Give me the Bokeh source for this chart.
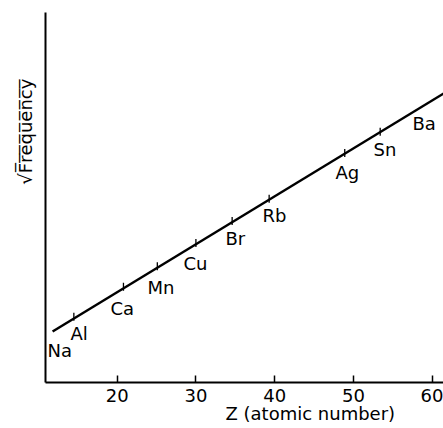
from bokeh.plotting import figure
from bokeh.models import Range1d, FixedTicker, ColumnDataSource
from bokeh.core.properties import value
from bokeh.embed import file_html
from bokeh.resources import INLINE

# ---- data ----
elements = ["Na", "Al", "Ca", "Mn", "Cu", "Br", "Rb", "Ag", "Sn", "Ba"]
label_z = [11.15, 14.07, 19.15, 23.85, 28.42, 33.76, 38.46, 47.72, 52.55, 57.5]
label_y = [3.2, 4.9, 7.4, 9.5, 11.9, 14.4, 16.7, 21.0, 23.3, 25.9]
mark_z = [14.5, 20.8, 25.1, 30.0, 34.6, 39.3, 48.9, 53.4]
mark_y = [6.58, 9.57, 11.62, 13.95, 16.14, 18.37, 22.94, 25.08]
line_z = [11.8, 62.5]
line_y = [5.1, 29.4]
x_ticks = [20, 30, 40, 50, 60]

FONT = "DejaVu Sans"
NB = "\u00a0"

p = figure(width=443, height=428, output_backend="svg", toolbar_location=None,
           x_range=Range1d(10.9, 61.44), y_range=Range1d(0, 37),
           min_border_left=45, min_border_right=0, min_border_top=12, min_border_bottom=46)
p.outline_line_color = None
p.xgrid.visible = False
p.ygrid.visible = False
p.background_fill_color = "white"
p.border_fill_color = "white"

# x axis
xa = p.xaxis[0]
xa.ticker = FixedTicker(ticks=x_ticks)
xa.minor_tick_line_color = None
xa.major_tick_in = 7
xa.major_tick_out = 0
xa.major_tick_line_width = 1.5
xa.major_tick_line_color = "black"
xa.axis_line_width = 2
xa.axis_line_color = "black"
xa.major_label_text_font = FONT
xa.major_label_text_font_size = "18px"
xa.major_label_text_color = "black"
xa.major_label_standoff = 6
xa.axis_label = NB * 23 + "Z (atomic number)"
xa.axis_label_text_font = FONT
xa.axis_label_text_font_size = "18px"
xa.axis_label_text_font_style = "normal"
xa.axis_label_text_color = "black"
xa.axis_label_standoff = -2

# y axis
ya = p.yaxis[0]
ya.ticker = FixedTicker(ticks=[])
ya.minor_tick_line_color = None
ya.major_tick_in = 0
ya.major_tick_out = 0
ya.axis_line_width = 2
ya.axis_line_color = "black"
ya.major_label_text_font_size = "0px"
ya.axis_label = NB * 23 + "\u221aF\u0305r\u0305e\u0305q\u0305u\u0305e\u0305n\u0305c\u0305y\u0305"
ya.axis_label_text_font = FONT
ya.axis_label_text_font_size = "18px"
ya.axis_label_text_font_style = "normal"
ya.axis_label_text_color = "black"
ya.axis_label_standoff = 10

# line
p.line(line_z, line_y, line_color="black", line_width=2.5)

# marks on line
src_m = ColumnDataSource(dict(x=mark_z, y0=[v - 0.4 for v in mark_y], y1=[v + 0.4 for v in mark_y]))
p.segment(x0="x", x1="x", y0="y0", y1="y1", source=src_m, line_color="black", line_width=1.3)

# element labels
src_l = ColumnDataSource(dict(x=label_z, y=label_y, t=elements))
p.text(x="x", y="y", text="t", source=src_l, text_font=value(FONT), text_font_size="18px",
       text_align="left", text_baseline="middle", text_color="black")

open("out.html", "w").write(file_html(p, INLINE))
